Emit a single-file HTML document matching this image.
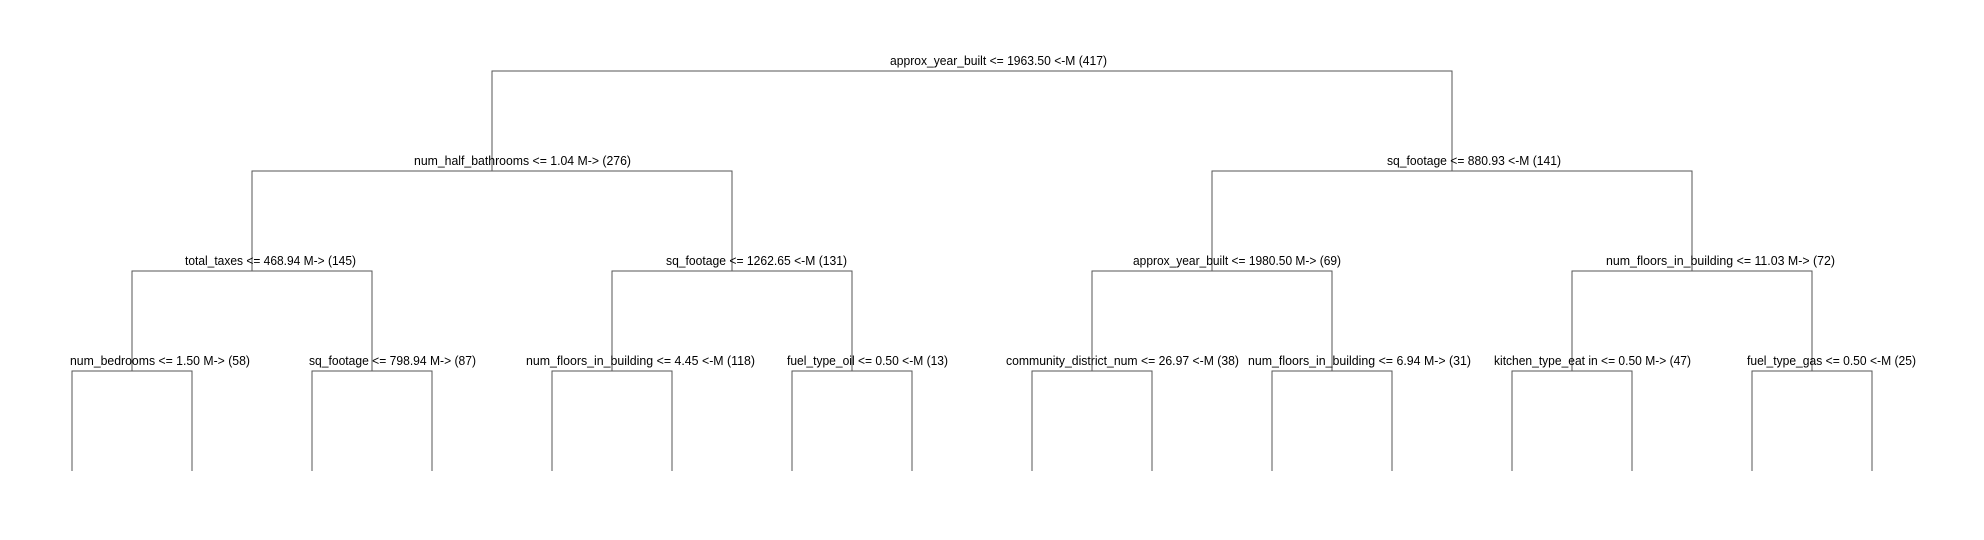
<!DOCTYPE html>
<html><head><style>body{margin:0;background:#fff}svg{display:block}</style></head><body>
<svg width="1984" height="540" xmlns="http://www.w3.org/2000/svg">
<g stroke="#555" stroke-width="1.2" fill="none" shape-rendering="crispEdges">
<polyline points="492,171 492,71 1452,71 1452,171"/>
<polyline points="252,271 252,171 732,171 732,271"/>
<polyline points="1212,271 1212,171 1692,171 1692,271"/>
<polyline points="132,371 132,271 372,271 372,371"/>
<polyline points="612,371 612,271 852,271 852,371"/>
<polyline points="1092,371 1092,271 1332,271 1332,371"/>
<polyline points="1572,371 1572,271 1812,271 1812,371"/>
<polyline points="72,471 72,371 192,371 192,471"/>
<polyline points="312,471 312,371 432,371 432,471"/>
<polyline points="552,471 552,371 672,371 672,471"/>
<polyline points="792,471 792,371 912,371 912,471"/>
<polyline points="1032,471 1032,371 1152,371 1152,471"/>
<polyline points="1272,471 1272,371 1392,371 1392,471"/>
<polyline points="1512,471 1512,371 1632,371 1632,471"/>
<polyline points="1752,471 1752,371 1872,371 1872,471"/>
</g>
<g font-family="Liberation Sans, sans-serif" font-size="12.5" fill="#000" lengthAdjust="spacingAndGlyphs">
<text x="890" y="65" textLength="217" lengthAdjust="spacingAndGlyphs">approx_year_built &lt;= 1963.50 &lt;-M (417)</text>
<text x="414" y="165" textLength="217" lengthAdjust="spacingAndGlyphs">num_half_bathrooms &lt;= 1.04 M-&gt; (276)</text>
<text x="1387" y="165" textLength="174" lengthAdjust="spacingAndGlyphs">sq_footage &lt;= 880.93 &lt;-M (141)</text>
<text x="185" y="265" textLength="171" lengthAdjust="spacingAndGlyphs">total_taxes &lt;= 468.94 M-&gt; (145)</text>
<text x="666" y="265" textLength="181" lengthAdjust="spacingAndGlyphs">sq_footage &lt;= 1262.65 &lt;-M (131)</text>
<text x="1133" y="265" textLength="208" lengthAdjust="spacingAndGlyphs">approx_year_built &lt;= 1980.50 M-&gt; (69)</text>
<text x="1606" y="265" textLength="229" lengthAdjust="spacingAndGlyphs">num_floors_in_building &lt;= 11.03 M-&gt; (72)</text>
<text x="70" y="365" textLength="180" lengthAdjust="spacingAndGlyphs">num_bedrooms &lt;= 1.50 M-&gt; (58)</text>
<text x="309" y="365" textLength="167" lengthAdjust="spacingAndGlyphs">sq_footage &lt;= 798.94 M-&gt; (87)</text>
<text x="526" y="365" textLength="229" lengthAdjust="spacingAndGlyphs">num_floors_in_building &lt;= 4.45 &lt;-M (118)</text>
<text x="787" y="365" textLength="161" lengthAdjust="spacingAndGlyphs">fuel_type_oil &lt;= 0.50 &lt;-M (13)</text>
<text x="1006" y="365" textLength="233" lengthAdjust="spacingAndGlyphs">community_district_num &lt;= 26.97 &lt;-M (38)</text>
<text x="1248" y="365" textLength="223" lengthAdjust="spacingAndGlyphs">num_floors_in_building &lt;= 6.94 M-&gt; (31)</text>
<text x="1494" y="365" textLength="197" lengthAdjust="spacingAndGlyphs">kitchen_type_eat in &lt;= 0.50 M-&gt; (47)</text>
<text x="1747" y="365" textLength="169" lengthAdjust="spacingAndGlyphs">fuel_type_gas &lt;= 0.50 &lt;-M (25)</text>
</g>
</svg>
</body></html>
